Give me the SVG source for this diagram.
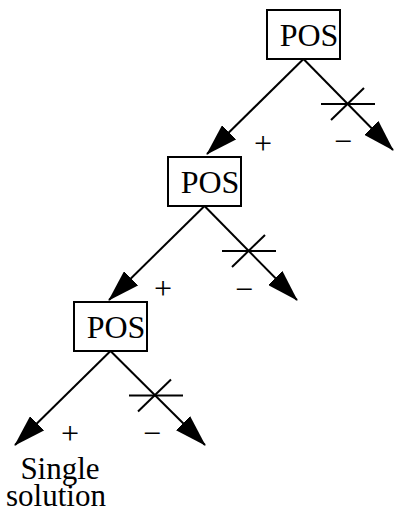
<svg xmlns="http://www.w3.org/2000/svg" width="398" height="513" viewBox="0 0 398 513">
<style>
.box{fill:#fff;stroke:#000;stroke-width:2}
.t{font-family:"Liberation Serif","Times New Roman",serif;font-size:32px;fill:#000;text-anchor:middle}
.s{font-size:31px}
.e{stroke:#000;stroke-width:2;fill:none}
.a{marker-end:url(#ah)}
</style>
<defs>
<marker id="ah" markerUnits="userSpaceOnUse" markerWidth="32" markerHeight="20" viewBox="0 0 32 20" refX="31" refY="10" orient="auto">
<path d="M0,0 L32,10 L0,20 Z" fill="#000"/>
</marker>
</defs>
<g id="connectors">
<line class="e a" x1="303.5" y1="59" x2="207" y2="154"/>
<line class="e a" x1="303.5" y1="59" x2="393" y2="150"/>
<line class="e" x1="321" y1="104" x2="375" y2="104"/>
<line class="e" x1="331" y1="120" x2="364" y2="88"/>
<line class="e a" x1="204.5" y1="206" x2="109" y2="300"/>
<line class="e a" x1="204.5" y1="206" x2="297" y2="300"/>
<line class="e" x1="222" y1="251" x2="276" y2="251"/>
<line class="e" x1="232" y1="267" x2="265" y2="235"/>
<line class="e a" x1="110.5" y1="351" x2="15" y2="445"/>
<line class="e a" x1="110.5" y1="351" x2="205" y2="445"/>
<line class="e" x1="129" y1="395.5" x2="183" y2="395.5"/>
<line class="e" x1="138" y1="411.5" x2="171" y2="379.5"/>
<text class="t" x="263" y="154">+</text>
<text class="t" x="343" y="152">−</text>
<text class="t" x="163" y="299">+</text>
<text class="t" x="244" y="300">−</text>
<text class="t" x="70" y="444">+</text>
<text class="t" x="152" y="444">−</text>
</g>
<g id="pos1">
<rect class="box" x="267" y="10" width="73" height="49"/>
<text class="t" x="309" y="46">POS</text>
</g>
<g id="pos2">
<rect class="box" x="168" y="157" width="73" height="49"/>
<text class="t" x="210" y="193">POS</text>
</g>
<g id="pos3">
<rect class="box" x="74" y="302" width="73" height="49"/>
<text class="t" x="116" y="338">POS</text>
</g>
<g id="result">
<text class="t s"><tspan x="60" y="479">Single</tspan><tspan x="56" y="506">solution</tspan></text>
</g>
</svg>
